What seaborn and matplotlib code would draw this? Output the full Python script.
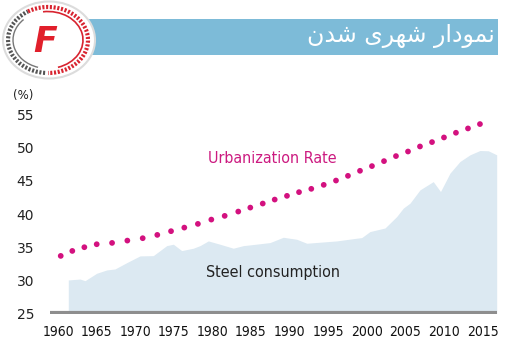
import matplotlib
matplotlib.use("Agg")
import matplotlib.pyplot as plt
from matplotlib import font_manager as fm
import seaborn as sns
import pandas as pd
from matplotlib.patches import Ellipse, Arc, Rectangle

# ---------------- data ----------------
urban_years = [1960.35, 1961.85, 1963.41, 1965.01, 1967.0, 1968.98, 1970.97, 1972.86,
               1974.64, 1976.36, 1978.12, 1979.86, 1981.59, 1983.35, 1984.91, 1986.52,
               1988.07, 1989.66, 1991.22, 1992.81, 1994.42, 1996.01, 1997.56, 1999.12,
               2000.67, 2002.23, 2003.78, 2005.34, 2006.89, 2008.45, 2010.0, 2011.55,
               2013.11, 2014.66]
urban_rate = [33.69, 34.44, 35.0, 35.45, 35.65, 36.0, 36.36, 36.86, 37.42, 37.96, 38.52,
              39.17, 39.73, 40.38, 40.98, 41.59, 42.19, 42.75, 43.31, 43.81, 44.41, 45.06,
              45.77, 46.53, 47.24, 47.99, 48.75, 49.44, 50.2, 50.86, 51.56, 52.27, 52.92,
              53.58]

steel_years = [1961.33, 1962.85, 1963.5, 1965.01, 1966.31, 1967.38, 1968.9, 1970.62,
               1972.34, 1974.08, 1974.94, 1976.02, 1977.53, 1978.39, 1979.47, 1980.98,
               1982.71, 1984.0, 1984.87, 1987.46, 1989.18, 1990.92, 1992.22, 1996.1,
               1998.7, 1999.34, 2000.41, 2002.36, 2003.87, 2004.73, 2005.6, 2006.89,
               2008.61, 2009.55, 2010.35, 2010.78, 2012.07, 2013.37, 2014.66, 2015.74,
               2016.83]
steel_index = [30.06, 30.2, 29.95, 31.07, 31.57, 31.72, 32.67, 33.69, 33.73, 35.24, 35.45,
               34.49, 34.85, 35.24, 35.95, 35.45, 34.85, 35.24, 35.35, 35.7, 36.5, 36.2,
               35.6, 35.95, 36.36, 36.45, 37.36, 37.9, 39.62, 40.9, 41.65, 43.65, 44.9,
               43.4, 45.2, 46.18, 47.93, 48.94, 49.59, 49.55, 48.94]

y_ticks = [25, 30, 35, 40, 45, 50, 55]
x_ticks = [1960, 1965, 1970, 1975, 1980, 1985, 1990, 1995, 2000, 2005, 2010, 2015]

title_text = "نمودار شهری شدن"
# visual (shaped, right-to-left reversed) form of the title using Arabic presentation forms
title_visual = "\uFEE5\uFEAA\uFEB7 \uFEEF\uFEAE\uFEEC\uFEB7 \uFEAD\uFE8D\uFEA9\uFEEE\uFEE4\uFEE7"

urban = pd.DataFrame({"year": urban_years, "rate": urban_rate})
steel = pd.DataFrame({"year": steel_years, "value": steel_index})

# ---------------- narrow font selection ----------------
entries = {(f.name, f.stretch) for f in fm.fontManager.ttflist}
names = {f.name for f in fm.fontManager.ttflist}
if "Liberation Sans Narrow" in names:
    NARROW = dict(family="Liberation Sans Narrow")
    x_size, lab_size = 11, 13
elif ("DejaVu Sans", "condensed") in entries:
    NARROW = dict(family="DejaVu Sans", stretch="condensed")
    x_size, lab_size = 10, 11.5
else:
    NARROW = dict(family="Roboto")
    x_size, lab_size = 9.5, 11.5

# ---------------- figure ----------------
sns.set_style("white")
W, H = 507, 363
fig = plt.figure(figsize=(W / 100, H / 100), dpi=100)
fig.patch.set_facecolor("white")

px = lambda x: x / W
py = lambda y: (H - y) / H
ax = fig.add_axes([px(50), py(313.5), (496.7 - 50) / W, (313.5 - 101.4) / H])
ax.set_xlim(1958.96, 2016.83)
ax.set_ylim(25, 57)

ax.fill_between(steel["year"], steel["value"], 25, color="#dce9f2", lw=0, zorder=1)
sns.scatterplot(data=urban, x="year", y="rate", ax=ax, s=17, color="#d3117f",
                edgecolor="none", linewidth=0, zorder=3, legend=False)
ax.axhline(25.15, color="#8e8e8e", lw=3.0, zorder=4, solid_capstyle="butt")

for s in ax.spines.values():
    s.set_visible(False)
ax.set_xlabel("")
ax.set_ylabel("")
ax.set_yticks(y_ticks)
ax.set_yticklabels([str(v) for v in y_ticks])
ax.set_xticks(x_ticks)
ax.set_xticklabels([str(v) for v in x_ticks])
ax.tick_params(axis="y", direction="in", length=8.4, width=0.8, color="#9a9a9a",
               pad=11.5, labelsize=10, labelcolor="#222222")
ax.tick_params(axis="x", length=0, pad=8, labelsize=x_size, labelcolor="#111111")
for lab in ax.get_xticklabels():
    lab.set_fontfamily(NARROW["family"])
    lab.set_fontweight("medium")
    if "stretch" in NARROW:
        lab.set_fontstretch(NARROW["stretch"])
for lab in ax.get_yticklabels():
    lab.set_fontfamily("DejaVu Sans")
# hide tick mark at 25 (covered by baseline bar)
ax.yaxis.get_major_ticks()[0].tick1line.set_visible(False)

# ---------------- overlay (pixel coordinates) ----------------
ov = fig.add_axes([0, 0, 1, 1], zorder=5)
ov.set_xlim(0, W)
ov.set_ylim(H, 0)
ov.axis("off")
ov.patch.set_alpha(0)

ov.text(23.5, 96, "(%)", ha="center", va="center", fontsize=8.5, color="#222222",
        family="DejaVu Sans")
ov.text(272.5, 158.5, "Urbanization Rate", ha="center", va="center", fontsize=lab_size,
        color="#cc1a80", **NARROW)
ov.text(273, 272, "Steel consumption", ha="center", va="center", fontsize=lab_size,
        color="#222222", **NARROW)

# banner
ov.add_patch(Rectangle((88, 19), 410, 36, facecolor="#7dbbd8", edgecolor="none"))
ov.text(495, 36, title_visual, ha="right", va="center", fontsize=17, color="white",
        family="DejaVu Sans")

# logo
ov.add_patch(Ellipse((49, 40), 92, 77, facecolor="white", edgecolor="#dcdcdc", lw=1.5,
                     zorder=6))
ov.add_patch(Arc((48, 40), 80, 66, theta1=95, theta2=235, color="#555555", lw=3.0,
                 linestyle=(0, (0.5, 0.4)), zorder=7))
ov.add_patch(Arc((48, 40), 80, 66, theta1=-125, theta2=90, color="#d8232f", lw=3.0,
                 linestyle=(0, (0.5, 0.4)), zorder=7))
ov.add_patch(Arc((48, 40), 70, 57, theta1=110, theta2=220, color="#777777", lw=1.0,
                 zorder=7))
ov.add_patch(Arc((48, 40), 70, 57, theta1=-100, theta2=70, color="#d8232f", lw=1.2,
                 zorder=7))
ov.text(45, 42, "F", ha="center", va="center", fontsize=25, color="#e11f2b",
        weight="bold", style="italic", family="DejaVu Sans", zorder=8)

fig.savefig("out.png", dpi=100)
